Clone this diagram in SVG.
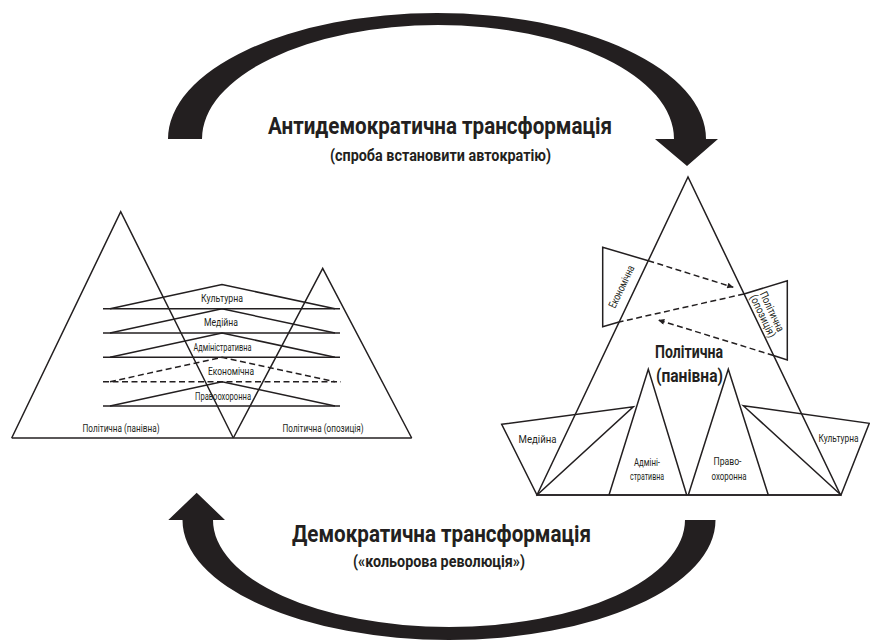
<svg xmlns="http://www.w3.org/2000/svg" width="870" height="642" viewBox="0 0 870 642">
  <defs>
    <style>
      .ln { fill: none; stroke: #231f20; stroke-width: 1.5; stroke-linejoin: miter; }
      .dash { fill: none; stroke: #231f20; stroke-width: 1.5; stroke-dasharray: 6 3.5; }
      .big { fill: #231f20; stroke: none; }
      .lbl { font-family: "Liberation Sans Narrow", "Roboto", "Liberation Sans", sans-serif; font-size: 10px; fill: #231f20; text-anchor: middle; }
      .lbl2 { font-family: "Liberation Sans Narrow", "Roboto", "Liberation Sans", sans-serif; font-size: 11px; fill: #231f20; text-anchor: middle; }
      .head { font-family: "Liberation Sans Narrow", "Roboto", "Liberation Sans", sans-serif; font-weight: bold; fill: #231f20; text-anchor: middle; }
    </style>
    <marker id="tip" viewBox="0 0 10 10" refX="10" refY="5" markerWidth="8" markerHeight="6" markerUnits="userSpaceOnUse" orient="auto">
      <path d="M0,0 L10,5 L0,10 Z" fill="#231f20"/>
    </marker>
  </defs>

  <rect width="870" height="642" fill="#ffffff"/>

  <!-- Left system: ruling pyramid and opposition pyramid -->
  <g id="left-ruling">
    <polyline class="ln" points="11.7,438 120.7,211.7 233.3,438"/>
    <text class="lbl" x="121" y="431.5" textLength="77" lengthAdjust="spacingAndGlyphs">Політична (панівна)</text>
  </g>
  <g id="left-opposition">
    <polyline class="ln" points="233.3,438 322.7,268.3 411.7,438"/>
    <text class="lbl" x="323" y="431.5" textLength="81" lengthAdjust="spacingAndGlyphs">Політична (опозиція)</text>
  </g>
  <line class="ln" x1="11.7" y1="438" x2="411.7" y2="438"/>

  <!-- Left system: stacked flat layers -->
  <g id="left-culture">
    <polyline class="ln" points="110,308.8 222,284.5 335,308.8"/>
    <line class="ln" x1="103" y1="308.8" x2="340" y2="308.8"/>
    <text class="lbl" x="222" y="302" textLength="42" lengthAdjust="spacingAndGlyphs">Культурна</text>
  </g>
  <g id="left-media">
    <polyline class="ln" points="110,333 222,308.8 335,333"/>
    <line class="ln" x1="103" y1="333" x2="340" y2="333"/>
    <text class="lbl" x="221" y="326" textLength="34" lengthAdjust="spacingAndGlyphs">Медійна</text>
  </g>
  <g id="left-admin">
    <polyline class="ln" points="110,357.3 222,333 335,357.3"/>
    <line class="ln" x1="103" y1="357.3" x2="340" y2="357.3"/>
    <text class="lbl" x="222.5" y="351" textLength="58" lengthAdjust="spacingAndGlyphs">Адміністративна</text>
  </g>
  <g id="left-economic">
    <polyline class="dash" points="110,381.7 222,357.3 335,381.7"/>
    <line class="dash" x1="103" y1="381.7" x2="341" y2="381.7"/>
    <text class="lbl" x="231" y="374.5" textLength="46" lengthAdjust="spacingAndGlyphs">Економічна</text>
  </g>
  <g id="left-law">
    <polyline class="ln" points="110,406 222,381.7 335,406"/>
    <line class="ln" x1="103" y1="406" x2="340" y2="406"/>
    <text class="lbl" x="223" y="399.5" textLength="56" lengthAdjust="spacingAndGlyphs">Правоохоронна</text>
  </g>

  <!-- Right system: dominant political pyramid -->
  <g id="right-ruling">
    <polygon class="ln" points="537,495 688,177 840.5,495"/>
    <line class="ln" x1="537" y1="495" x2="841" y2="495"/>
    <text class="head" x="689" y="358" font-size="18" textLength="68" lengthAdjust="spacingAndGlyphs">Політична</text>
    <text class="head" x="689.5" y="381.5" font-size="18" textLength="67" lengthAdjust="spacingAndGlyphs">(панівна)</text>
  </g>
  <g id="right-economic">
    <polyline class="ln" points="648.3,260.7 602.7,247.3 602.7,326.7 619,322"/>
    <g transform="translate(621.5,286.7) rotate(-64.7)">
      <text class="lbl2" x="0" y="3.8" textLength="46" lengthAdjust="spacingAndGlyphs">Економічна</text>
    </g>
  </g>
  <g id="right-opposition">
    <polyline class="ln" points="744,294 787.3,280.7 787.3,360 773.5,355.5"/>
    <g transform="translate(767.5,313.8) rotate(64.5)">
      <text class="lbl2" x="0" y="-1.3" textLength="43" lengthAdjust="spacingAndGlyphs">Політична</text>
      <text class="lbl2" x="0" y="8.8" textLength="46" lengthAdjust="spacingAndGlyphs">(опозиція)</text>
    </g>
  </g>
  <g id="right-media">
    <polygon class="ln" points="501.7,424.3 633.3,406.7 537,495"/>
    <text class="lbl2" x="537.5" y="443" textLength="38" lengthAdjust="spacingAndGlyphs">Медійна</text>
  </g>
  <g id="right-admin">
    <polyline class="ln" points="609,495 648.3,369.3 686.7,495"/>
    <text class="lbl2" x="647" y="466" textLength="26" lengthAdjust="spacingAndGlyphs">Адміні-</text>
    <text class="lbl2" x="647" y="479.5" textLength="34" lengthAdjust="spacingAndGlyphs">стративна</text>
  </g>
  <g id="right-law">
    <polyline class="ln" points="688.3,495 728.3,369.3 768.3,495"/>
    <text class="lbl2" x="727.5" y="465" textLength="28" lengthAdjust="spacingAndGlyphs">Право-</text>
    <text class="lbl2" x="729" y="480" textLength="35" lengthAdjust="spacingAndGlyphs">охоронна</text>
  </g>
  <g id="right-culture">
    <polygon class="ln" points="743.3,405.7 869.3,423.3 841,495"/>
    <text class="lbl2" x="838.5" y="442" textLength="40" lengthAdjust="spacingAndGlyphs">Культурна</text>
  </g>

  <!-- Connectors: influence links and the two transformation arrows -->
  <g id="connectors">
    <line class="dash" x1="648.3" y1="260.7" x2="733.3" y2="287.3" marker-end="url(#tip)"/>
    <line class="dash" x1="744" y1="294" x2="619" y2="322"/>
    <line class="dash" x1="773.5" y1="355.5" x2="658.3" y2="320" marker-end="url(#tip)"/>

    <path class="big" d="M168,139 A269,126 0 0 1 706,139 L718,139 L687,166 L655,139 L674,139 A236,114 0 0 0 202,139 Z"/>
    <path class="big" d="M715.5,520 A266.5,120 0 0 1 182.5,520 L168.3,520 L196.7,492.7 L225,520 L213,520 A236,107 0 0 0 685,520 Z"/>
  </g>

  <g id="arrow-labels">
    <text class="head" x="440" y="134" font-size="24" textLength="344" lengthAdjust="spacingAndGlyphs">Антидемократична трансформація</text>
    <text class="head" x="440.5" y="161" font-size="16" textLength="221" lengthAdjust="spacingAndGlyphs">(спроба встановити автократію)</text>
    <text class="head" x="441.5" y="541.5" font-size="24" textLength="299" lengthAdjust="spacingAndGlyphs">Демократична трансформація</text>
    <text class="head" x="439" y="566.5" font-size="16" textLength="172" lengthAdjust="spacingAndGlyphs">(«кольорова революція»)</text>
  </g>
</svg>
